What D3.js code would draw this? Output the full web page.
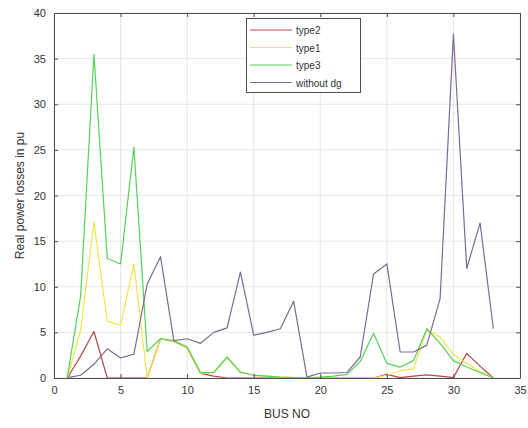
<!DOCTYPE html>
<html>
<head>
<meta charset="utf-8">
<script src="https://cdn.jsdelivr.net/npm/d3@7"></script>
<style>
  body { margin: 0; background: #fff; }
  svg { display: block; font-family: "Liberation Sans", Arial, sans-serif; }
</style>
</head>
<body>
<svg id="chart" width="528" height="428"></svg>
<script>
// bus numbers 1..33
var buses = d3.range(1, 34)

// losses per bus
var type2 = [0, 2.4, 5.1, 0, 0, 0, 0, 4.3, 4.0, 3.3, 0.5, 0.2, 0, 0, 0, 0, 0, 0, 0, 0, 0, 0, 0, 0, 0.4, 0.05, 0.2, 0.35, 0.2, 0.05, 2.7, 1.3, 0]
var type1 = [0, 5.2, 17.1, 6.2, 5.8, 12.5, 0, 4.3, 4.0, 3.3, 0.5, 0.6, 2.2, 0.6, 0.3, 0.2, 0.1, 0.05, 0, 0, 0, 0, 0, 0, 0.3, 0.8, 1.0, 5.3, 4.5, 2.6, 1.6, 0.7, 0]
var type3 = [0.1, 9.0, 35.5, 13.1, 12.5, 25.3, 2.9, 4.3, 4.1, 3.4, 0.6, 0.6, 2.3, 0.65, 0.3, 0.2, 0.1, 0.05, 0, 0.1, 0.2, 0.4, 1.8, 4.9, 1.6, 1.2, 1.9, 5.4, 3.8, 1.9, 1.2, 0.6, 0]
var withoutDg = [0.05, 0.3, 1.5, 3.2, 2.2, 2.6, 10.3, 13.3, 4.1, 4.3, 3.8, 5.0, 5.5, 11.6, 4.7, 5.0, 5.4, 8.4, 0.1, 0.55, 0.55, 0.6, 2.3, 11.4, 12.5, 2.85, 2.85, 3.6, 8.7, 37.7, 12.0, 17.0, 5.4]

var xTicks = [0, 5, 10, 15, 20, 25, 30, 35]
var yTicks = [0, 5, 10, 15, 20, 25, 30, 35, 40]

var series = [
  { name: 'type2', values: type2, color: '#b5474f' },
  { name: 'type1', values: type1, color: '#f4e24a' },
  { name: 'type3', values: type3, color: '#55d255' },
  { name: 'without dg', values: withoutDg, color: '#7d6a90' }
]

var svg = d3.select('#chart')
var plotLeft = 54, plotRight = 520, plotTop = 13, plotBottom = 378
var axisColor = '#4d4d4d'

var x = d3.scaleLinear().domain([0, 35]).range([plotLeft, plotRight])
var y = d3.scaleLinear().domain([0, 40]).range([plotBottom, plotTop])

// grid
var grid = svg.append('g')
grid.selectAll('line.gx').data(xTicks).join('line').attr('class', 'gx')
  .attr('x1', d => x(d)).attr('x2', d => x(d))
  .attr('y1', plotTop).attr('y2', plotBottom)
  .attr('stroke', '#e6e6e6')
grid.selectAll('line.gy').data(yTicks).join('line').attr('class', 'gy')
  .attr('y1', d => y(d)).attr('y2', d => y(d))
  .attr('x1', plotLeft).attr('x2', plotRight)
  .attr('stroke', '#e6e6e6')

// lines
var line = d3.line()
  .x((d, i) => x(buses[i]))
  .y(d => y(d))

svg.append('g').selectAll('path').data(series).join('path')
  .attr('d', d => line(d.values))
  .attr('fill', 'none')
  .attr('stroke', d => d.color)
  .attr('stroke-width', 1.2)
  .attr('stroke-linejoin', 'round')

// axes, MATLAB style ticks inside and mirrored
var xAxis = d3.axisBottom(x).tickValues(xTicks).tickSizeInner(-4).tickSizeOuter(0).tickPadding(8)
var yAxis = d3.axisLeft(y).tickValues(yTicks).tickSizeInner(-4).tickSizeOuter(0).tickPadding(8)

var gx = svg.append('g').attr('transform', 'translate(0,' + plotBottom + ')').call(xAxis)
var gy = svg.append('g').attr('transform', 'translate(' + plotLeft + ',0)').call(yAxis)
var gxTop = svg.append('g').attr('transform', 'translate(0,' + plotTop + ')')
  .call(d3.axisTop(x).tickValues(xTicks).tickSizeInner(-4).tickSizeOuter(0).tickFormat(''))
var gyRight = svg.append('g').attr('transform', 'translate(' + plotRight + ',0)')
  .call(d3.axisRight(y).tickValues(yTicks).tickSizeInner(-4).tickSizeOuter(0).tickFormat(''))

;[gx, gy, gxTop, gyRight].forEach(function(g) {
  g.select('.domain').attr('stroke', axisColor)
  g.selectAll('.tick line').attr('stroke', axisColor)
  g.selectAll('text').attr('fill', '#333').style('font-size', '11px')
})

// labels
svg.append('text')
  .attr('x', (plotLeft + plotRight) / 2).attr('y', 418)
  .attr('text-anchor', 'middle')
  .attr('fill', '#333')
  .style('font-size', '12px')
  .text('BUS NO')

svg.append('text')
  .attr('transform', 'translate(24,' + (plotTop + plotBottom) / 2 + ') rotate(-90)')
  .attr('text-anchor', 'middle')
  .attr('fill', '#333')
  .style('font-size', '12px')
  .text('Real power losses in pu')

// legend
var lg = svg.append('g')
lg.append('rect')
  .attr('x', 246.5).attr('y', 18.5).attr('width', 114).attr('height', 74)
  .attr('fill', '#fff').attr('stroke', axisColor)

var rows = lg.selectAll('g.row').data(series).join('g')
  .attr('transform', (d, i) => 'translate(0,' + (30 + i * 17.5) + ')')
rows.append('line')
  .attr('x1', 250).attr('x2', 292)
  .attr('stroke', d => d.color).attr('stroke-width', 1.2)
rows.append('text')
  .attr('x', 296).attr('y', 4)
  .attr('fill', '#333')
  .style('font-size', '10px')
  .text(d => d.name)
</script>
</body>
</html>
